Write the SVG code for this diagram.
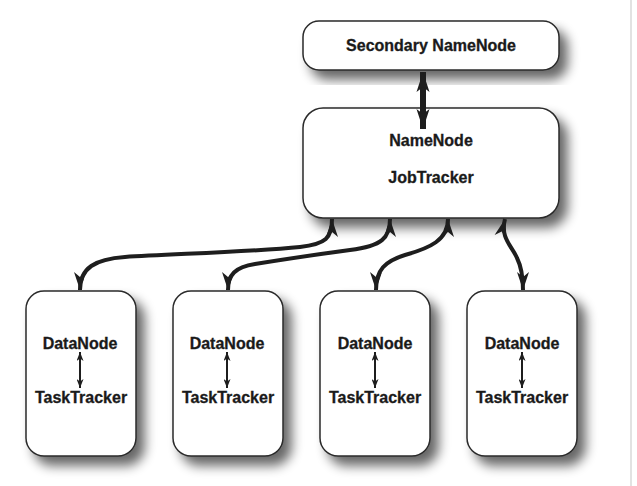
<svg xmlns="http://www.w3.org/2000/svg" width="637" height="486" viewBox="0 0 637 486">
<style>
.box{fill:#fff;stroke:#2a2a2a;stroke-width:1.5;filter:url(#sh)}
.t{font-family:"Liberation Sans",Arial,sans-serif;font-weight:bold;font-size:16px;fill:#1a1a1a;text-anchor:middle;stroke:#1a1a1a;stroke-width:0.3}
.c{fill:none;stroke:#1e1e1e;stroke-width:4;marker-start:url(#ah);marker-end:url(#ah)}
.s{fill:none;stroke:#1e1e1e;stroke-width:2;marker-start:url(#as);marker-end:url(#as)}
</style>
<defs>
<filter id="sh" x="-20%" y="-20%" width="150%" height="150%">
<feGaussianBlur in="SourceAlpha" stdDeviation="6"/>
<feOffset dx="8" dy="9" result="b"/>
<feComponentTransfer><feFuncA type="linear" slope="0.6"/></feComponentTransfer>
<feMerge><feMergeNode/><feMergeNode in="SourceGraphic"/></feMerge>
</filter>
<marker id="ah" markerUnits="userSpaceOnUse" markerWidth="18" markerHeight="13" viewBox="0 0 18 13" refX="18" refY="6.5" orient="auto-start-reverse">
<path d="M0,0.5 L18,6.5 L0,12.5 L5,6.5 Z" fill="#1e1e1e"/>
</marker>
<marker id="ahb" markerUnits="userSpaceOnUse" markerWidth="20" markerHeight="14" viewBox="0 0 20 14" refX="20" refY="7" orient="auto-start-reverse">
<path d="M0,0.5 L20,7 L0,13.5 L5,7 Z" fill="#1e1e1e"/>
</marker>
<marker id="as" markerUnits="userSpaceOnUse" markerWidth="9" markerHeight="7" viewBox="0 0 9 7" refX="9" refY="3.5" orient="auto-start-reverse">
<path d="M0,0 L9,3.5 L0,7 L2.5,3.5 Z" fill="#1e1e1e"/>
</marker>
</defs>
<rect width="637" height="486" fill="#fff"/>
<line x1="631" y1="0" x2="631" y2="486" stroke="#d8d8d8" stroke-width="1.5"/>
<g id="secondary">
<rect class="box" x="303" y="21" width="256" height="49" rx="16"/>
<text class="t" x="431" y="51">Secondary NameNode</text>
</g>
<g id="namenode">
<rect class="box" x="303" y="108" width="256" height="110" rx="20"/>
<text class="t" x="431" y="146">NameNode</text>
<text class="t" x="431" y="183">JobTracker</text>
</g>
<g id="dn1">
<rect class="box" x="26" y="291" width="110" height="165" rx="18"/>
<text class="t" x="80" y="349">DataNode</text>
<path class="s" d="M80,352 L80,388"/>
<text class="t" x="81" y="403">TaskTracker</text>
</g>
<g id="dn2">
<rect class="box" x="173" y="291" width="110" height="165" rx="18"/>
<text class="t" x="227" y="349">DataNode</text>
<path class="s" d="M227,352 L227,388"/>
<text class="t" x="228" y="403">TaskTracker</text>
</g>
<g id="dn3">
<rect class="box" x="320" y="291" width="110" height="165" rx="18"/>
<text class="t" x="375" y="349">DataNode</text>
<path class="s" d="M375,352 L375,388"/>
<text class="t" x="375" y="403">TaskTracker</text>
</g>
<g id="dn4">
<rect class="box" x="467" y="291" width="110" height="165" rx="18"/>
<text class="t" x="522" y="349">DataNode</text>
<path class="s" d="M522,352 L522,388"/>
<text class="t" x="522" y="403">TaskTracker</text>
</g>
<g id="connectors">
<path class="c" style="stroke-width:6;marker-start:url(#ahb);marker-end:url(#ahb)" d="M423,72 L423,129"/>
<path class="c" d="M332,219 C332,238 326,244 300,247 C250,252 170,254 125,257 C95,259 80,268 80,290"/>
<path class="c" d="M390,219 C390,238 382,246 350,250 C320,254 280,260 255,264 C235,267 228,275 228,290"/>
<path class="c" d="M448,219 C448,240 430,248 405,255 C385,261 376,270 376,290"/>
<path class="c" d="M505,219 C500,238 512,246 517,258 C522,268 523,278 523,290"/>
</g>
</svg>
